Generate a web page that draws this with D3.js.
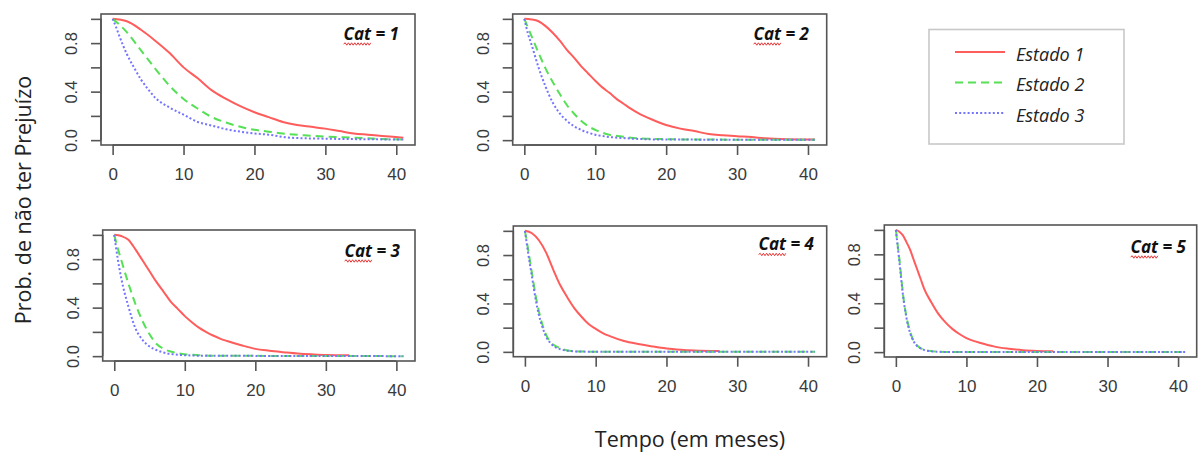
<!DOCTYPE html>
<html>
<head>
<meta charset="utf-8">
<script src="https://cdn.jsdelivr.net/npm/d3@7"></script>
<style>
  html, body { margin: 0; padding: 0; background: #fff; }
  svg { display: block; }
</style>
</head>
<body>
<svg id="chart" width="1199" height="456"></svg>
<script>
// ---------------- DATA ----------------
const categories = ["Cat = 1", "Cat = 2", "Cat = 3", "Cat = 4", "Cat = 5"];
const states = ["Estado 1", "Estado 2", "Estado 3"];
const xTicks = [0, 10, 20, 30, 40];
const yTicks = [0, 0.2, 0.4, 0.6, 0.8, 1.0];
const yTickLabels = ["0.0", "", "0.4", "", "0.8", ""];
const xTitle = "Tempo (em meses)";
const yTitle = "Prob. de não ter Prejuízo";

// [time (months), probability]
const cat1Estado1 = [[0,1],[2,0.98],[4,0.91],[6,0.82],[8,0.72],[10,0.60],[12,0.51],[14,0.41],[16,0.34],[18,0.28],[20,0.23],[22,0.19],[24,0.15],[26,0.125],[28,0.11],[30,0.095],[32,0.075],[34,0.055],[36,0.045],[38,0.035],[41,0.02]];
const cat1Estado2 = [[0,1],[1,0.95],[2,0.89],[4,0.74],[6,0.59],[8,0.45],[10,0.34],[12,0.26],[14,0.19],[16,0.145],[18,0.11],[20,0.085],[22,0.07],[24,0.055],[27,0.04],[30,0.03],[34,0.02],[38,0.01],[41,0.005]];
const cat1Estado3 = [[0,1],[0.5,0.93],[1,0.85],[2,0.71],[3,0.6],[4,0.5],[5,0.42],[6,0.35],[8,0.27],[10,0.21],[12,0.15],[14,0.12],[16,0.09],[18,0.07],[20,0.055],[22,0.045],[25,0.02],[30,0.012],[35,0.008],[41,0.005]];

const cat2Estado1 = [[0,1],[1,0.995],[2,0.98],[3,0.94],[4,0.885],[5,0.82],[6,0.745],[7,0.68],[8,0.61],[9,0.55],[10,0.49],[11,0.435],[12,0.39],[13,0.34],[14,0.30],[15,0.26],[16,0.225],[18,0.17],[20,0.125],[22,0.095],[24,0.075],[26,0.05],[28,0.04],[30,0.032],[32,0.025],[34,0.015],[37,0.008],[41,0.005]];
const cat2Estado2 = [[0,1],[0.5,0.93],[1,0.86],[2,0.72],[3,0.59],[4,0.48],[5,0.38],[6,0.29],[7,0.22],[8,0.16],[9,0.115],[10,0.085],[11,0.062],[12,0.045],[14,0.028],[16,0.015],[20,0.008],[25,0.005],[41,0.003]];
const cat2Estado3 = [[0,1],[0.5,0.88],[1,0.79],[2,0.6],[3,0.44],[4,0.31],[5,0.22],[6,0.16],[7,0.115],[8,0.085],[9,0.062],[10,0.045],[11,0.034],[12,0.026],[14,0.017],[16,0.01],[20,0.005],[41,0.003]];

const cat3Estado1 = [[0,1],[1,0.99],[2,0.96],[3,0.88],[4,0.79],[5,0.70],[6,0.61],[7,0.53],[8,0.45],[9,0.39],[10,0.33],[11,0.28],[12,0.235],[13,0.20],[14,0.17],[15,0.145],[16,0.125],[18,0.09],[20,0.06],[22,0.045],[24,0.033],[26,0.022],[28,0.015],[30,0.01],[33.3,0.008]];
const cat3Estado2 = [[0,1],[0.5,0.89],[1,0.79],[2,0.6],[3,0.43],[4,0.29],[5,0.18],[6,0.10],[7,0.06],[8,0.038],[9,0.025],[10,0.016],[12,0.008],[14,0.004],[41,0]];
const cat3Estado3 = [[0,1],[0.5,0.8],[1,0.64],[2,0.41],[3,0.23],[4,0.135],[5,0.08],[6,0.05],[7,0.03],[8,0.018],[10,0.008],[12,0.004],[41,0]];

const cat4Estado1 = [[0,1],[1,0.98],[2,0.92],[3,0.82],[4,0.68],[5,0.55],[6,0.45],[7,0.36],[8,0.29],[9,0.23],[10,0.19],[11,0.155],[12,0.13],[14,0.09],[16,0.065],[18,0.045],[20,0.028],[22,0.018],[24,0.012],[27.5,0.008]];
const cat4Estado2 = [[0,1],[0.25,0.92],[0.5,0.83],[1,0.65],[1.5,0.47],[2,0.33],[2.5,0.22],[3,0.14],[3.5,0.09],[4,0.06],[5,0.03],[6,0.012],[7,0.005],[8,0.002],[41,0]];
const cat4Estado3 = [[0,1],[0.25,0.9],[0.5,0.8],[1,0.62],[1.5,0.44],[2,0.3],[2.5,0.2],[3,0.125],[3.5,0.08],[4,0.05],[5,0.022],[6,0.01],[7,0.004],[8,0.002],[41,0]];

const cat5Estado1 = [[0,1],[0.5,0.985],[1,0.955],[1.5,0.9],[2,0.84],[2.5,0.76],[3,0.68],[3.5,0.6],[4,0.52],[5,0.41],[6,0.315],[7,0.245],[8,0.19],[9,0.148],[10,0.115],[11,0.092],[12,0.074],[13,0.058],[14,0.045],[16,0.028],[18,0.016],[20,0.01],[22.3,0.007]];
const cat5Estado2 = [[0,1],[0.25,0.88],[0.5,0.76],[0.75,0.62],[1,0.48],[1.5,0.29],[2,0.17],[2.5,0.095],[3,0.055],[3.5,0.033],[4,0.02],[5,0.008],[6,0.003],[7,0.001],[41,0]];
const cat5Estado3 = [[0,1],[0.25,0.87],[0.5,0.74],[0.75,0.6],[1,0.47],[1.5,0.28],[2,0.16],[2.5,0.09],[3,0.05],[3.5,0.03],[4,0.018],[5,0.007],[6,0.003],[7,0.001],[41,0]];

const seriesByCategory = [
  [cat1Estado1, cat1Estado2, cat1Estado3],
  [cat2Estado1, cat2Estado2, cat2Estado3],
  [cat3Estado1, cat3Estado2, cat3Estado3],
  [cat4Estado1, cat4Estado2, cat4Estado3],
  [cat5Estado1, cat5Estado2, cat5Estado3]
];

// ---------------- LAYOUT / STYLE ----------------
const panelBoxes = [
  { left: 101,   top: 14,  width: 314,   height: 131, labelX: 399,  labelY: 39.5 },
  { left: 512.7, top: 14,  width: 314,   height: 131, labelX: 809,  labelY: 39.5 },
  { left: 102.7, top: 230, width: 312.3, height: 131, labelX: 400,  labelY: 256.5 },
  { left: 513.3, top: 226, width: 313.4, height: 130.7, labelX: 814, labelY: 250 },
  { left: 884.3, top: 225, width: 312.4, height: 132, labelX: 1186, labelY: 252.5 }
];
const stateStyles = [
  { color: "#ff5c5c", dash: null,    width: 2 },
  { color: "#55e055", dash: "8,5",   width: 2 },
  { color: "#7474ff", dash: "2,2.2", width: 2 }
];
const xDomain = [-1.64, 42.64];   // 0..41 with R's 4% extension
const yDomain = [-0.04, 1.04];
const axisColor = "#555";
const tickTextColor = "#3a3a3a";
const tickFont = "'Liberation Sans', Arial, sans-serif";
const textFont = "'Open Sans', 'Noto Sans', sans-serif";

const svg = d3.select("#chart");

function wavyPath(x0, x1, y) {
  const p = d3.path();
  p.moveTo(x0, y);
  let up = true;
  for (let x = x0 + 1.6; x <= x1; x += 1.6) {
    p.lineTo(x, y + (up ? -1.2 : 1.2));
    up = !up;
  }
  return p.toString();
}

categories.forEach((cat, i) => {
  const b = panelBoxes[i];
  const x = d3.scaleLinear().domain(xDomain).range([b.left, b.left + b.width]);
  const y = d3.scaleLinear().domain(yDomain).range([b.top + b.height, b.top]);
  const g = svg.append("g");

  const line = d3.line().x(d => x(d[0])).y(d => y(d[1])).curve(d3.curveMonotoneX);
  seriesByCategory[i].forEach((series, s) => {
    const st = stateStyles[s];
    g.append("path")
      .datum(series)
      .attr("d", line)
      .attr("fill", "none")
      .attr("stroke", st.color)
      .attr("stroke-width", st.width)
      .attr("stroke-dasharray", st.dash)
      .attr("stroke-linejoin", "round");
  });

  g.append("rect")
    .attr("x", b.left).attr("y", b.top)
    .attr("width", b.width).attr("height", b.height)
    .attr("fill", "none").attr("stroke", axisColor).attr("stroke-width", 1.6);

  const xAxis = d3.axisBottom(x).tickValues(xTicks).tickSize(10).tickSizeOuter(0).tickPadding(13)
    .tickFormat(d3.format("d"));
  const gx = g.append("g").attr("transform", `translate(0,${b.top + b.height})`).call(xAxis);
  gx.select(".domain").attr("d", `M${x(xTicks[0])},0H${x(xTicks[xTicks.length - 1])}`)
    .attr("stroke", axisColor).attr("stroke-width", 1.6);
  gx.selectAll(".tick line").attr("stroke", axisColor).attr("stroke-width", 1.6);
  gx.selectAll(".tick text").attr("fill", tickTextColor)
    .style("font-family", tickFont).style("font-size", "17px");

  const yAxis = d3.axisLeft(y).tickValues(yTicks).tickSize(10).tickSizeOuter(0)
    .tickFormat((d, k) => yTickLabels[k]);
  const gy = g.append("g").attr("transform", `translate(${b.left},0)`).call(yAxis);
  gy.select(".domain").attr("d", `M0,${y(yTicks[0])}V${y(yTicks[yTicks.length - 1])}`)
    .attr("stroke", axisColor).attr("stroke-width", 1.6);
  gy.selectAll(".tick line").attr("stroke", axisColor).attr("stroke-width", 1.6);
  gy.selectAll(".tick text")
    .attr("x", null).attr("dy", null)
    .attr("transform", "translate(-24,0) rotate(-90)")
    .attr("text-anchor", "middle")
    .attr("fill", tickTextColor)
    .style("font-family", tickFont).style("font-size", "16.5px");

  const t = g.append("text")
    .attr("x", b.labelX).attr("y", b.labelY)
    .attr("text-anchor", "end")
    .style("font-family", textFont).style("font-style", "italic").style("font-weight", "700")
    .style("font-size", "17px").attr("fill", "#111")
    .text(cat);
  const node = t.node();
  const sx = node.getStartPositionOfChar(0).x;
  const ex = node.getEndPositionOfChar(2).x;
  g.append("path").attr("d", wavyPath(sx, ex, b.labelY + 4.5))
    .attr("fill", "none").attr("stroke", "#e53030").attr("stroke-width", 1);
});

svg.append("text")
  .attr("x", 690).attr("y", 447)
  .attr("text-anchor", "middle")
  .style("font-family", textFont).style("font-size", "21.5px").attr("fill", "#222")
  .text(xTitle);
svg.append("text")
  .attr("transform", "translate(31,200) rotate(-90)")
  .attr("text-anchor", "middle")
  .style("font-family", textFont).style("font-size", "21.5px").attr("fill", "#222")
  .text(yTitle);

const legend = svg.append("g");
legend.append("rect")
  .attr("x", 929).attr("y", 29.5).attr("width", 195).attr("height", 114.5)
  .attr("fill", "#fff").attr("stroke", "#c8c8c8").attr("stroke-width", 1.6);
const legendY = d3.scalePoint().domain(states).range([52, 113]);
states.forEach((s, k) => {
  const st = stateStyles[k];
  legend.append("line")
    .attr("x1", 955).attr("x2", 1005)
    .attr("y1", legendY(s)).attr("y2", legendY(s))
    .attr("stroke", st.color).attr("stroke-width", st.width)
    .attr("stroke-dasharray", st.dash);
  legend.append("text")
    .attr("x", 1016).attr("y", legendY(s) + 8.5)
    .style("font-family", textFont).style("font-style", "italic")
    .style("font-size", "18px").attr("fill", "#222")
    .text(s);
});
</script>
</body>
</html>
